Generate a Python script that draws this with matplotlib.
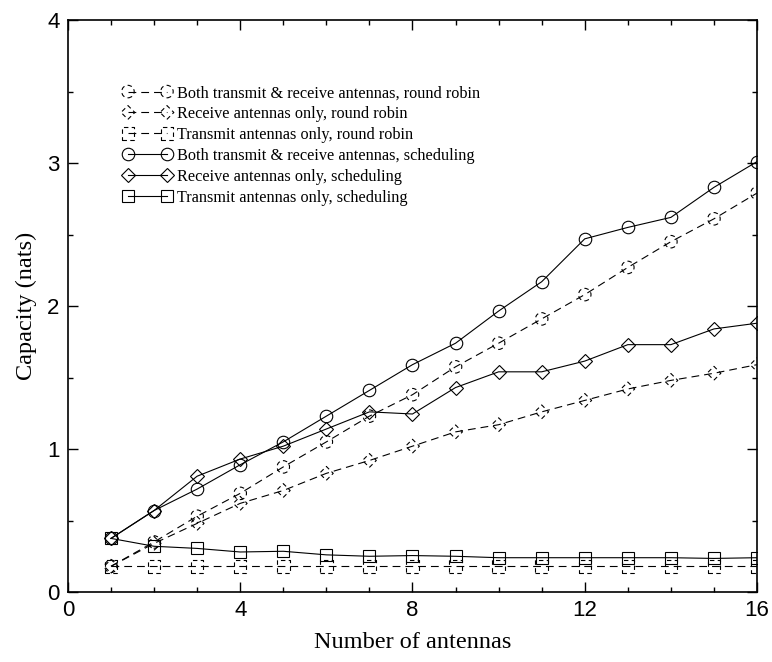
import matplotlib
matplotlib.use("Agg")
import matplotlib.pyplot as plt
from matplotlib.ticker import MultipleLocator
from matplotlib.legend_handler import HandlerTuple

antennas = list(range(1, 17))

# round robin
both_rr = [0.18, 0.35, 0.53, 0.69, 0.875, 1.05, 1.23, 1.38, 1.575, 1.74,
           1.91, 2.08, 2.27, 2.45, 2.61, 2.79]
recv_rr = [0.18, 0.34, 0.48, 0.62, 0.71, 0.83, 0.92, 1.02, 1.12, 1.17,
           1.26, 1.34, 1.42, 1.48, 1.53, 1.59]
tx_rr = [0.18, 0.18, 0.18, 0.18, 0.18, 0.18, 0.18, 0.18, 0.18, 0.18,
         0.18, 0.18, 0.18, 0.18, 0.18, 0.18]

# scheduling
both_sched = [0.375, 0.57, 0.72, 0.89, 1.05, 1.23, 1.41, 1.59, 1.74, 1.965,
              2.17, 2.47, 2.55, 2.62, 2.83, 3.01]
recv_sched = [0.375, 0.57, 0.81, 0.93, 1.02, 1.14, 1.26, 1.245, 1.43, 1.54,
              1.54, 1.615, 1.73, 1.73, 1.84, 1.88]
tx_sched = [0.375, 0.32, 0.305, 0.28, 0.285, 0.26, 0.25, 0.255, 0.25, 0.24,
            0.24, 0.24, 0.24, 0.24, 0.235, 0.24]

labels = [
    "Both transmit & receive antennas, round robin",
    "Receive antennas only, round robin",
    "Transmit antennas only, round robin",
    "Both transmit & receive antennas, scheduling",
    "Receive antennas only, scheduling",
    "Transmit antennas only, scheduling",
]

serif = "Liberation Serif"
sans = "Liberation Sans"

fig = plt.figure(figsize=(7.72, 6.62), dpi=100)
ax = fig.add_axes([0.088, 0.1057, 0.8926, 0.864])

lw = 0.8
ms = 9
dms = ms * 0.78  # diamonds come out bigger than circles at equal size
handles = []

# dashed curves, markers drawn with dashed outlines too
for ys, mk in [(both_rr, "o"), (recv_rr, "D"), (tx_rr, "s")]:
    ln, = ax.plot(antennas, ys, color="black", lw=lw, ls=(0, (7, 4.5)))
    sz = dms ** 2 if mk == "D" else ms ** 2
    sc = ax.scatter(antennas, ys, s=sz, marker=mk, facecolors="none",
                    edgecolors="black", linewidths=lw, linestyles=(0, (4, 3)),
                    zorder=3)
    handles.append((ln, sc))

for ys, mk in [(both_sched, "o"), (recv_sched, "D"), (tx_sched, "s")]:
    ln, = ax.plot(antennas, ys, color="black", lw=lw, marker=mk,
                  ms=dms if mk == "D" else ms, mfc="none", mec="black",
                  mew=lw)
    handles.append(ln)

ax.set_xlim(0, 16)
ax.set_ylim(0, 4)
ax.xaxis.set_major_locator(MultipleLocator(4))
ax.xaxis.set_minor_locator(MultipleLocator(1))
ax.yaxis.set_major_locator(MultipleLocator(1))
ax.yaxis.set_minor_locator(MultipleLocator(0.5))
ax.tick_params(which="both", direction="in", top=True, right=True,
               width=1.0, labelsize=16, pad=6)
ax.tick_params(which="major", length=7)
ax.tick_params(which="minor", length=3.5)
for lab in ax.get_xticklabels() + ax.get_yticklabels():
    lab.set_fontfamily(sans)
for sp in ax.spines.values():
    sp.set_linewidth(1.2)

ax.set_xlabel("Number of antennas", fontsize=17.5, fontfamily=serif, labelpad=8)
ax.set_ylabel("Capacity (nats)", fontsize=17.5, fontfamily=serif, labelpad=7)

ax.legend(handles, labels, loc="upper left", bbox_to_anchor=(0.08, 0.886),
          frameon=False, numpoints=2, scatterpoints=2, scatteryoffsets=[0.5],
          handlelength=3.0, handletextpad=0.3, labelspacing=0.3,
          borderpad=0, borderaxespad=0,
          handler_map={tuple: HandlerTuple(ndivide=1)},
          prop={"family": serif, "size": 11.7})

fig.savefig("out.png", dpi=100)
